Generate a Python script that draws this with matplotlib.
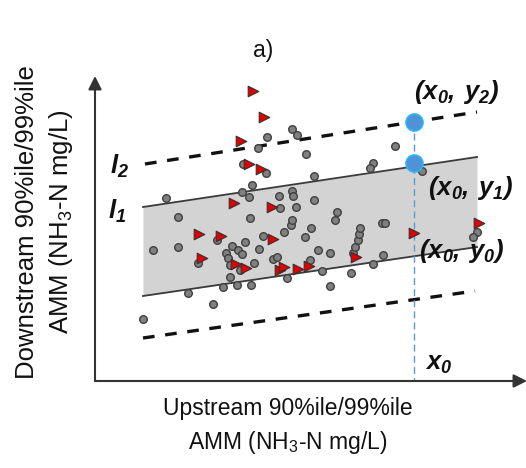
import matplotlib
matplotlib.use("Agg")
import matplotlib.pyplot as plt
import numpy as np

# ---- data (in picture pixel units) ----
circle_x = [166, 178, 153, 178, 217, 232, 238, 242, 245, 226, 228, 230, 198, 254, 240,
            230, 223, 237, 251, 188, 213, 143, 273, 277, 287, 310, 322, 330, 351, 373,
            383, 330, 318, 353, 355, 358, 359, 360, 382, 385, 335, 337, 311, 305, 284,
            263, 259, 291, 292, 250, 242, 249, 252, 279, 292, 293, 296, 280, 314, 243,
            258, 267, 292, 297, 306, 266, 314, 395, 373, 370, 422, 477, 473]
circle_y = [198, 217, 250, 247, 240, 246, 250, 254, 242, 253, 258, 265, 263, 263, 270,
            277, 287, 285, 285, 293, 304, 319, 259, 257, 278, 260, 271, 286, 273, 264,
            255, 253, 250, 253, 247, 240, 234, 228, 223, 223, 220, 212, 228, 237, 232,
            236, 249, 225, 220, 218, 192, 197, 185, 196, 191, 196, 207, 208, 200, 164,
            148, 137, 129, 135, 154, 173, 176, 146, 163, 168, 171, 232, 237]
tri_x = [253, 264, 241, 249, 261, 234, 272, 199, 221, 273, 202, 236, 246, 280, 284,
         298, 309, 356, 414, 479]
tri_y = [91, 117, 141, 164, 169, 203, 207, 234, 236, 239, 258, 264, 268, 270, 267,
         269, 266, 257, 233, 223]

band_x = [143, 477]
band_top = [207, 157]
band_bot = [296, 247]
upper_x = [145, 477]
upper_y = [164, 112]
lower_x = [143, 475]
lower_y = [338, 291]
x0 = 414
y_pts = [122, 163]

axis_origin = (95, 381)
y_axis_tip = 76
x_axis_tip = 527

font = "Liberation Sans"

fig = plt.figure(figsize=(5.26, 4.68), dpi=100)
ax = fig.add_axes([0, 0, 1, 1])
ax.set_xlim(0, 526)
ax.set_ylim(468, 0)
ax.axis("off")

# band
ax.fill_between(band_x, band_top, band_bot, color="#d3d3d3", zorder=1, linewidth=0)
ax.plot(band_x, band_top, color="#3a3a3a", lw=1.3, zorder=2)
ax.plot(band_x, band_bot, color="#3a3a3a", lw=1.3, zorder=2)

# prediction-interval dashed lines
ax.plot(upper_x, upper_y, color="#111111", lw=2.4, ls=(0, (3.5, 3.2)), zorder=2)
ax.plot(lower_x, lower_y, color="#111111", lw=2.4, ls=(0, (3.5, 3.2)), zorder=2)

# vertical x0 line
ax.plot([x0, x0], [y_pts[0], axis_origin[1]], color="#5b9bd5", lw=1.0,
        ls=(0, (5, 3)), zorder=3)

# scatter
ax.scatter(circle_x, circle_y, s=30, marker="o", facecolor="#808080",
           edgecolor="#404040", linewidths=1.0, zorder=4)
ax.scatter(tri_x, tri_y, s=58, marker=">", facecolor="#e00000",
           edgecolor="#333333", linewidths=0.8, zorder=5)

# highlighted points
ax.scatter([x0] * len(y_pts), y_pts, s=150, marker="o", facecolor="#4f93d6",
           edgecolor="#29b6f6", linewidths=1.2, zorder=6)

# axes with arrows
ax.annotate("", xy=(axis_origin[0], y_axis_tip), xytext=axis_origin,
            annotation_clip=False,
            arrowprops=dict(arrowstyle="-|>", color="#333333", lw=1.5,
                            mutation_scale=20, shrinkA=0, shrinkB=0))
ax.annotate("", xy=(x_axis_tip, axis_origin[1]), xytext=axis_origin,
            annotation_clip=False,
            arrowprops=dict(arrowstyle="-|>", color="#333333", lw=1.5,
                            mutation_scale=20, shrinkA=0, shrinkB=0))

bi = dict(family=font, fontweight="bold", fontstyle="italic", fontsize=18.5,
          color="#111111")
ax.text(414, 92, r"$\mathregular{(x_0,\,y_2)}$", ha="left", va="center", **bi)
ax.text(428, 188, r"$\mathregular{(x_0,\,y_1)}$", ha="left", va="center", **bi)
ax.text(419, 251, r"$\mathregular{(x_0,\,y_0)}$", ha="left", va="center", **bi)
ax.text(425, 364, r"$\mathregular{x_0}$", ha="left", va="center", **bi)
ax.text(110, 166, r"$\mathregular{l_2}$", ha="left", va="center", **bi)
ax.text(108, 211, r"$\mathregular{l_1}$", ha="left", va="center", **bi)

reg = dict(family=font, fontsize=16.5, color="#111111")
ax.text(263, 50, "a)", ha="center", va="center", **reg)
ax.text(288, 427, "Upstream 90%ile/99%ile\nAMM (NH$_\\mathregular{3}$-N mg/L)",
        ha="center", va="center", linespacing=1.45, **reg)
ax.text(45, 222, "Downstream 90%ile/99%ile\nAMM (NH$_\\mathregular{3}$-N mg/L)",
        ha="center", va="center", rotation=90, linespacing=1.35,
        family=font, fontsize=18.5, color="#111111")

fig.savefig("out.png", dpi=100)
